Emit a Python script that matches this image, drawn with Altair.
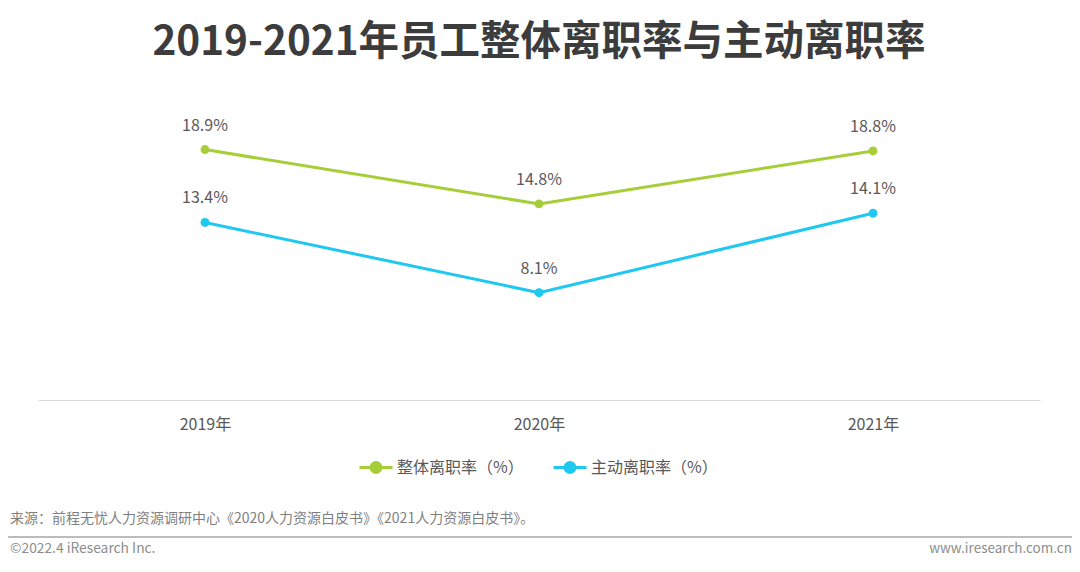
import altair as alt
import pandas as pd

# ---- data ----
years = ["2019年", "2020年", "2021年"]
overall = [18.9, 14.8, 18.8]
active = [13.4, 8.1, 14.1]
series_names = ["整体离职率（%）", "主动离职率（%）"]
colors = ["#A6CE39", "#1EC8F0"]

title_text = "2019-2021年员工整体离职率与主动离职率"
source_text = "来源：前程无忧人力资源调研中心《2020人力资源白皮书》《2021人力资源白皮书》。"
copyright_text = "©2022.4 iResearch Inc."
site_text = "www.iresearch.com.cn"

rows = []
for name, vals in zip(series_names, [overall, active]):
    for yr, v in zip(years, vals):
        rows.append({"year": yr, "series": name, "value": v, "label": f"{v:.1f}%"})
df = pd.DataFrame(rows)

FONT = "Noto Sans CJK SC"
W, H = 1002, 265
X0, Y0 = 38, 135  # page position of plot origin

x_enc = alt.X(
    "year:N",
    sort=years,
    scale=alt.Scale(type="point", padding=0.5),
    axis=alt.Axis(
        title=None, labelAngle=0, ticks=False, grid=False,
        domainColor="#d9d9d9", domainWidth=1,
        labelFont=FONT, labelFontSize=16, labelColor="#595959", labelPadding=16,
    ),
)
y_enc = alt.Y("value:Q", scale=alt.Scale(domain=[0, 20]), axis=None)

legend_path = "M-1,0H-0.3M0.3,0H1M0.3,0A0.3,0.3 0 1,1 -0.3,0A0.3,0.3 0 1,1 0.3,0Z"

legend = alt.Legend(
    title=None, orient="none", legendX=320, legendY=314.5,
    direction="horizontal", symbolType=legend_path, symbolSize=1089,
    symbolStrokeWidth=3, labelFont=FONT, labelFontSize=16,
    labelColor="#595959", labelOffset=3, columnPadding=23, padding=0,
)
color_enc = alt.Color(
    "series:N",
    sort=series_names,
    scale=alt.Scale(domain=series_names, range=colors),
    legend=legend,
)

base = alt.Chart(df).encode(x=x_enc, y=y_enc, color=color_enc)

lines = base.mark_line(strokeWidth=3)
points = base.mark_point(filled=True, size=80, opacity=1)
labels = alt.Chart(df).mark_text(dy=-24, font=FONT, fontSize=16, color="#595959").encode(
    x=x_enc, y=y_enc, text="label:N")


def ann(text, px, py, size, color, align="left", weight="normal"):
    return alt.Chart(pd.DataFrame({"t": [text]})).mark_text(
        font=FONT, fontSize=size, color=color, align=align, baseline="middle",
        fontWeight=weight,
    ).encode(text="t:N", x=alt.value(px - X0), y=alt.value(py - Y0))


title = ann(title_text, 539, 43, 40.5, "#3c3c3c", align="center", weight="bold")
source = ann(source_text, 10, 519, 14, "#7f7f7f")
copy_ = ann(copyright_text, 10, 549, 13.8, "#8c8c8c")
site = ann(site_text, 1072, 549, 13.5, "#8c8c8c", align="right")

sep = alt.Chart(pd.DataFrame({"a": [0]})).mark_rule(color="#a6a6a6", strokeWidth=1.5).encode(
    x=alt.value(8 - X0), x2=alt.value(1072 - X0), y=alt.value(537 - Y0)
)

chart = alt.layer(lines, points, labels, title, source, copy_, site, sep).properties(
    width=W, height=H,
    background="white",
    padding={"left": X0 - 8, "top": Y0 - 8, "right": 1064 - (X0 - 8) - W,
             "bottom": 556 - (Y0 - 8) - H},
    autosize=alt.AutoSizeParams(type="none"),
).configure_view(stroke=None)

chart.save("out.html", embed_options={"renderer": "svg", "actions": False})
